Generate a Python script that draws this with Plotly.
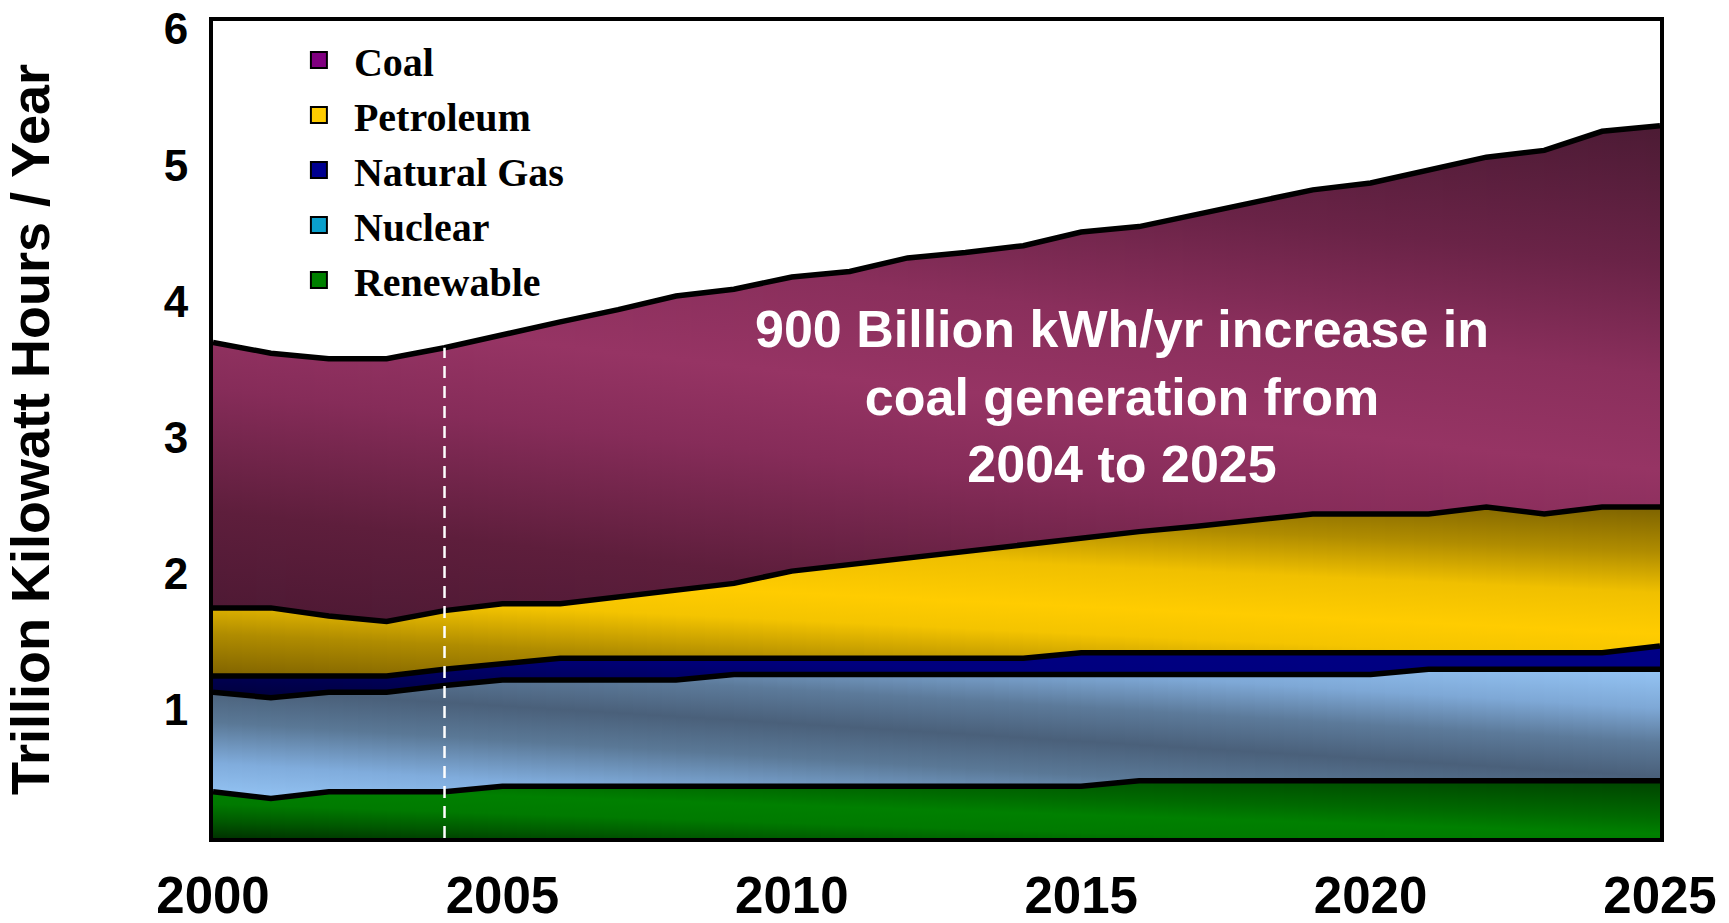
import numpy as np
import plotly.graph_objects as go

# Annual generation by source, trillion kWh per year
years = list(range(2000, 2026))
renewable = [0.34, 0.29, 0.34, 0.34, 0.34, 0.38, 0.38, 0.38, 0.38, 0.38, 0.38, 0.38, 0.38,
             0.38, 0.38, 0.38, 0.42, 0.42, 0.42, 0.42, 0.42, 0.42, 0.42, 0.42, 0.42, 0.42]
nuclear = [0.73, 0.74, 0.73, 0.73, 0.78, 0.78, 0.78, 0.78, 0.78, 0.82, 0.82, 0.82, 0.82,
           0.82, 0.82, 0.82, 0.78, 0.78, 0.78, 0.78, 0.78, 0.82, 0.82, 0.82, 0.82, 0.82]
natural_gas = [0.12, 0.16, 0.12, 0.12, 0.12, 0.12, 0.16, 0.16, 0.16, 0.12, 0.12, 0.12, 0.12,
               0.12, 0.12, 0.16, 0.16, 0.16, 0.16, 0.16, 0.16, 0.12, 0.12, 0.12, 0.12, 0.17]
petroleum = [0.50, 0.50, 0.44, 0.40, 0.43, 0.44, 0.40, 0.45, 0.50, 0.55, 0.64, 0.69, 0.73,
             0.78, 0.83, 0.84, 0.89, 0.93, 0.98, 1.02, 1.02, 1.02, 1.07, 1.02, 1.07, 1.02]
coal = [1.95, 1.87, 1.89, 1.93, 1.93, 1.98, 2.07, 2.11, 2.16, 2.16, 2.16, 2.15, 2.21,
        2.20, 2.20, 2.25, 2.24, 2.29, 2.33, 2.38, 2.43, 2.53, 2.57, 2.67, 2.76, 2.80]

x_ticks = [2000, 2005, 2010, 2015, 2020, 2025]
y_ticks = [1, 2, 3, 4, 5, 6]
marker_year = 2004
Y_MAX = 6.0

SANS = "Liberation Sans, Arial, sans-serif"
SERIF = "Liberation Serif, Times New Roman, serif"

# Band shading: colour stops along u = y + tilt * (year - 2000), which gives
# each band a slanted (diagonal) gradient.
styles = {
    "Renewable": dict(
        swatch="#008000", tilt=0.014,
        stops=[(0.0, "#003300"), (0.12, "#005800"), (0.25, "#007a00"),
               (0.38, "#008000"), (0.5, "#006a00"), (0.8, "#003e00")]),
    "Nuclear": dict(
        swatch="#0aa0cc", tilt=0.026,
        stops=[(0.3, "#94c4f4"), (0.55, "#80acdc"), (0.85, "#5a7896"), (1.1, "#4a607a"),
               (1.35, "#5c7a9a"), (1.6, "#7ea8d6"), (1.9, "#96c6f6")]),
    "Natural Gas": dict(
        swatch="#000090", tilt=0.02,
        stops=[(1.0, "#000036"), (1.5, "#00007e"), (2.0, "#000088")]),
    "Petroleum": dict(
        swatch="#ffcc00", tilt=0.02,
        stops=[(1.15, "#7a5e00"), (1.5, "#b08c00"), (1.8, "#f4c400"), (2.0, "#ffcc00"),
               (2.3, "#f0c000"), (2.6, "#b08c00"), (2.95, "#7a6000")]),
    "Coal": dict(
        swatch="#800080", tilt=0.048,
        stops=[(1.5, "#4a1832"), (2.4, "#5e1e3c"), (3.3, "#862c59"), (3.9, "#963464"),
               (4.6, "#8a2f5c"), (5.4, "#6a2347"), (6.5, "#4a1a33")]),
}

stack_order = [("Renewable", renewable), ("Nuclear", nuclear), ("Natural Gas", natural_gas),
               ("Petroleum", petroleum), ("Coal", coal)]


def _rgb(h):
    h = h.lstrip("#")
    return [int(h[i:i + 2], 16) for i in (0, 2, 4)]


def _mix(c0, c1, t):
    a, b = _rgb(c0), _rgb(c1)
    return "#" + "".join(f"{round(p + (q - p) * t):02x}" for p, q in zip(a, b))


def _color_at(stops, v):
    if v <= stops[0][0]:
        return stops[0][1]
    for (v0, c0), (v1, c1) in zip(stops, stops[1:]):
        if v0 <= v <= v1:
            return _mix(c0, c1, (v - v0) / (v1 - v0))
    return stops[-1][1]


def band_scale(stops, shift, lo, hi):
    """Colorscale over [lo, hi] in y for stops defined along u = y + shift."""
    ystops = [(u - shift, c) for u, c in stops]
    pts = [(lo, _color_at(ystops, lo))]
    pts += [(v, c) for v, c in ystops if lo < v < hi]
    pts.append((hi, _color_at(ystops, hi)))
    return [[(v - lo) / (hi - lo), c] for v, c in pts]


# Cumulative band edges
bands = []
base = [0.0] * len(years)
for name, values in stack_order:
    top = [b + v for b, v in zip(base, values)]
    bands.append((name, base, top))
    base = top
total = base

fig = go.Figure()

# Shaded band fills, drawn as thin slices so the slanted shading stays smooth;
# each slice overlaps the next one a little to avoid hairline seams.
SLICES_PER_YEAR = 4
OVERLAP = 0.02
x_first, x_last = years[0], years[-1]
edges = np.linspace(x_first, x_last, (x_last - x_first) * SLICES_PER_YEAR + 1)
for name, bot, top in bands:
    st = styles[name]
    for xa, xb in zip(edges[:-1], edges[1:]):
        xs = [xa, xb]
        if xb < x_last:
            xs.append(min(xb + OVERLAP, x_last))
        ts = list(np.interp(xs, years, top))
        bs = list(np.interp(xs, years, bot))
        shift = st["tilt"] * ((xa + xb) / 2 - x_first)
        lo, hi = min(bs) - 0.001, max(ts)
        fig.add_trace(go.Scatter(
            x=xs + xs[::-1], y=ts + bs[::-1], fill="toself", mode="none",
            fillgradient=dict(type="vertical", colorscale=band_scale(st["stops"], shift, lo, hi),
                              start=lo, stop=hi),
            name=name, showlegend=False, hoverinfo="skip",
        ))

# Heavy black boundary on top of every band
for name, bot, top in bands:
    fig.add_trace(go.Scatter(
        x=years, y=top, mode="lines", line=dict(color="black", width=5.5),
        name=name, showlegend=False, hoverinfo="skip",
    ))

# Reference year marker, from zero up to that year's total
i_mark = years.index(marker_year)
fig.add_trace(go.Scatter(
    x=[marker_year, marker_year], y=[0, total[i_mark]], mode="lines",
    line=dict(color="white", width=2.5, dash="12px,8px"),
    showlegend=False, hoverinfo="skip",
))

# Legend entries, top source first
for name, _ in reversed(stack_order):
    fig.add_trace(go.Scatter(
        x=[None], y=[None], mode="markers", name=name,
        marker=dict(symbol="square", size=16, color=styles[name]["swatch"],
                    line=dict(color="black", width=2)),
    ))

fig.add_annotation(
    text="900 Billion kWh/yr increase in<br>coal generation from<br>2004 to 2025",
    xref="paper", yref="paper", x=0.628, y=0.540, xanchor="center", yanchor="middle",
    showarrow=False, align="center",
    font=dict(family=SANS, size=52, color="white", weight="bold"),
)

fig.update_layout(
    width=1729, height=923,
    margin=dict(l=213, r=69, t=21, b=85, autoexpand=False),
    paper_bgcolor="white", plot_bgcolor="white",
    showlegend=True,
    legend=dict(
        x=0.049, y=0.992, xanchor="left", yanchor="top", traceorder="normal",
        bgcolor="rgba(0,0,0,0)", itemwidth=60,
        font=dict(family=SERIF, size=40, color="black", weight="bold"),
    ),
    xaxis=dict(
        range=[2000, 2025], tickvals=x_ticks, ticktext=[str(v) for v in x_ticks],
        showgrid=False, zeroline=False, ticks="", ticklabelstandoff=10, automargin=False,
        ticklabeloverflow="allow",
        showline=True, linecolor="black", linewidth=4, mirror=True,
        tickfont=dict(family=SANS, size=51, color="black", weight="bold"),
    ),
    yaxis=dict(
        range=[0, Y_MAX], tickvals=y_ticks, ticktext=[str(v) for v in y_ticks],
        showgrid=False, zeroline=False, ticks="", ticklabelstandoff=12, automargin=False,
        ticklabeloverflow="allow", ticklabelshift=8,
        showline=True, linecolor="black", linewidth=4, mirror=True,
        tickfont=dict(family=SANS, size=44, color="black", weight="bold"),
        title=dict(text="Trillion Kilowatt Hours / Year", standoff=100,
                   font=dict(family=SANS, size=54, color="black", weight="bold")),
    ),
)

fig.write_html("out.html")
